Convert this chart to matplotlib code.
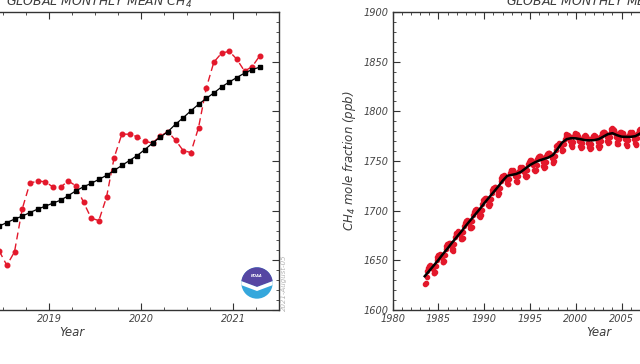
import matplotlib.pyplot as plt
import numpy as np
from matplotlib.patches import Circle, Polygon
from matplotlib.ticker import MultipleLocator, FuncFormatter

plt.rcParams['font.family'] = 'DejaVu Sans'
plt.rcParams['font.style'] = 'italic'
plt.rcParams['mathtext.fontset'] = 'dejavusans'
plt.rcParams['mathtext.default'] = 'it'

RED = '#e3182b'
TXT = '#3c3c3c'

# recent panel: monthly values from June 2018 to April 2021
recent_start = (2018, 6)
recent_monthly = [1851.9, 1849.0, 1851.7, 1860.3, 1865.5, 1866.0, 1865.8, 1864.8,
                  1864.7, 1866.0, 1865.0, 1861.7, 1858.5, 1858.0, 1862.7, 1870.7,
                  1875.4, 1875.4, 1874.9, 1874.0, 1873.6, 1875.0, 1875.9, 1874.2,
                  1872.1, 1871.7, 1876.7, 1884.6, 1889.9, 1891.7, 1892.1, 1890.5,
                  1888.1, 1889.0, 1891.2]
recent_trend = [1856.9, 1857.6, 1858.3, 1858.9, 1859.6, 1860.3, 1860.9, 1861.5,
                1862.1, 1863.0, 1864.0, 1864.8, 1865.5, 1866.3, 1867.1, 1868.1,
                1869.1, 1870.1, 1871.1, 1872.3, 1873.6, 1874.8, 1875.9, 1877.4,
                1878.7, 1880.1, 1881.4, 1882.6, 1883.7, 1884.9, 1885.9, 1886.8,
                1887.7, 1888.4, 1888.9]

# long record: monthly values from July 1983 (one row per year)
long_start = (1983, 7)
long_monthly = [
    1626.0, 1627.5, 1633.5, 1639.0, 1642.0, 1644.0,
    1644.0, 1645.2, 1644.5, 1643.7, 1641.2, 1637.5, 1636.8, 1638.4, 1644.0, 1650.2, 1653.4, 1655.0,
    1655.0, 1656.2, 1655.7, 1654.9, 1652.5, 1648.8, 1647.9, 1649.7, 1655.3, 1661.6, 1664.8, 1666.5,
    1666.5, 1667.6, 1667.2, 1666.4, 1664.0, 1660.3, 1659.5, 1661.2, 1666.8, 1673.1, 1676.3, 1678.0,
    1678.0, 1679.1, 1678.6, 1677.9, 1675.5, 1671.8, 1671.0, 1672.7, 1678.3, 1684.6, 1687.8, 1689.5,
    1689.5, 1690.6, 1690.0, 1689.2, 1686.8, 1683.0, 1682.3, 1683.9, 1689.5, 1695.7, 1698.8, 1700.5,
    1700.5, 1701.6, 1701.1, 1700.4, 1698.0, 1694.3, 1693.5, 1695.2, 1700.8, 1707.1, 1710.3, 1712.0,
    1712.0, 1713.1, 1712.5, 1711.7, 1709.3, 1705.5, 1704.8, 1706.4, 1712.0, 1718.2, 1721.3, 1723.0,
    1723.0, 1724.1, 1723.6, 1722.9, 1720.5, 1716.8, 1716.0, 1717.7, 1723.3, 1729.6, 1732.8, 1734.5,
    1734.4, 1735.5, 1734.8, 1733.9, 1731.5, 1727.6, 1726.4, 1727.3, 1732.1, 1737.6, 1740.0, 1740.9,
    1740.1, 1740.5, 1739.1, 1737.6, 1734.5, 1729.9, 1728.5, 1729.5, 1734.5, 1740.2, 1742.7, 1743.8,
    1743.3, 1744.1, 1743.2, 1742.0, 1739.3, 1735.2, 1734.1, 1735.4, 1740.7, 1746.5, 1749.3, 1750.7,
    1750.2, 1750.8, 1749.8, 1748.5, 1745.6, 1741.3, 1740.0, 1741.0, 1746.0, 1751.7, 1754.2, 1755.3,
    1754.6, 1755.1, 1753.8, 1752.4, 1749.3, 1744.9, 1743.4, 1744.4, 1749.3, 1754.9, 1757.3, 1758.4,
    1757.7, 1758.3, 1757.2, 1756.0, 1753.1, 1748.8, 1747.8, 1749.5, 1755.2, 1761.5, 1764.7, 1766.5,
    1766.5, 1767.8, 1767.4, 1766.8, 1764.6, 1761.0, 1760.1, 1761.4, 1766.7, 1772.5, 1775.3, 1776.7,
    1776.1, 1776.5, 1775.1, 1773.6, 1770.5, 1765.9, 1764.3, 1765.0, 1769.6, 1774.9, 1777.1, 1777.8,
    1776.7, 1776.8, 1775.2, 1773.3, 1769.9, 1765.1, 1763.2, 1763.8, 1768.3, 1773.4, 1775.5, 1776.1,
    1775.0, 1775.1, 1773.6, 1771.9, 1768.5, 1763.8, 1762.1, 1762.9, 1767.6, 1772.9, 1775.2, 1776.0,
    1775.1, 1775.5, 1774.1, 1772.6, 1769.5, 1764.9, 1763.5, 1764.6, 1769.8, 1775.5, 1778.1, 1779.3,
    1778.7, 1779.3, 1778.3, 1777.0, 1774.1, 1769.8, 1768.4, 1769.3, 1774.1, 1779.6, 1782.0, 1782.9,
    1781.8, 1781.7, 1779.9, 1777.8, 1774.2, 1769.2, 1767.2, 1767.6, 1772.1, 1777.1, 1779.1, 1779.6,
    1778.5, 1778.6, 1777.1, 1775.4, 1772.0, 1767.3, 1765.6, 1766.3, 1771.0, 1776.3, 1778.5, 1779.3,
    1778.4, 1778.7, 1777.3, 1775.7, 1772.5, 1767.9, 1766.5, 1767.6, 1772.8, 1778.5, 1781.1, 1782.3,
    1781.8, 1782.6, 1781.7,
]
long_trend_years = [1983.5 + 0.5 * i for i in range(49)]
long_trend = [1634, 1639.5, 1645, 1650.5, 1656.5, 1662, 1668, 1673.5, 1679, 1685,
              1690.5, 1696, 1701.5, 1707.5, 1713, 1718.5, 1724, 1730, 1735, 1736,
              1737, 1739, 1742.5, 1746, 1748.5, 1750.5, 1752, 1753.5, 1756, 1762,
              1768.5, 1772, 1773, 1772.8, 1772, 1771, 1770.8, 1771, 1772, 1774.5,
              1777, 1778, 1776, 1774.5, 1774.3, 1774.3, 1775, 1777.5, 1781]


def month_axis(start, n):
    y, m = start
    return np.array([y + (m - 1 + i + 0.5) / 12 for i in range(n)])


def style(ax):
    for s in ax.spines.values():
        s.set_color('#333333')
        s.set_linewidth(1.0)
    ax.tick_params(which='both', direction='in', top=True, right=True,
                   colors='#333333', labelcolor='#444444', labelsize=7, pad=3)
    ax.tick_params(which='major', length=5, width=0.8)
    ax.tick_params(which='minor', length=2.5, width=0.6)


fig = plt.figure(figsize=(6.4, 3.64), dpi=100)
fig.patch.set_facecolor('white')

# left: recent years (axes runs off the left edge, as in the cropped original)
ax1 = fig.add_axes([-135 / 640, 54 / 364, 414 / 640, 298 / 364])
xr = month_axis(recent_start, len(recent_monthly))
ax1.plot(xr, recent_monthly, color=RED, lw=1.0, dashes=(5, 3),
         marker='o', ms=3.3, mfc=RED, mec=RED)
ax1.plot(xr, recent_trend, color='black', lw=0.9, marker='s', ms=2.6)
ax1.set_xlim(2017, 2021.5)
ax1.set_ylim(1840, 1900)
ax1.xaxis.set_major_locator(MultipleLocator(1))
ax1.xaxis.set_minor_locator(MultipleLocator(0.25))
ax1.xaxis.set_major_formatter(FuncFormatter(lambda v, p: f'{v:.0f}' if v >= 2019 else ''))
ax1.yaxis.set_major_locator(MultipleLocator(10))
ax1.yaxis.set_minor_locator(MultipleLocator(2))
style(ax1)
ax1.tick_params(labelleft=False)
ax1.set_title('RECENT GLOBAL MONTHLY MEAN CH$_4$', fontsize=9, color=TXT, pad=4.3)
ax1.set_xlabel('Year', fontsize=8.5, color=TXT, labelpad=1)

# right: full record
ax2 = fig.add_axes([392.7 / 640, 54 / 364, 412 / 640, 298 / 364])
xl = month_axis(long_start, len(long_monthly))
ax2.plot(xl, long_monthly, color=RED, lw=0.8, dashes=(3, 2),
         marker='o', ms=3.0, mfc=RED, mec=RED)
ax2.plot(long_trend_years, long_trend, color='black', lw=1.8)
ax2.set_xlim(1980, 2025)
ax2.set_ylim(1600, 1900)
ax2.xaxis.set_major_locator(MultipleLocator(5))
ax2.xaxis.set_minor_locator(MultipleLocator(1))
ax2.xaxis.set_major_formatter(FuncFormatter(lambda v, p: f'{v:.0f}' if v <= 2005 else ''))
ax2.yaxis.set_major_locator(MultipleLocator(50))
ax2.yaxis.set_minor_locator(MultipleLocator(10))
style(ax2)
ax2.set_title('GLOBAL MONTHLY MEAN CH$_4$', fontsize=9, color=TXT, pad=4.3)
ax2.set_xlabel('Year', fontsize=8.5, color=TXT, labelpad=1)
ax2.set_ylabel('CH$_4$ mole fraction (ppb)', fontsize=8.5, color=TXT, labelpad=4)

# NOAA logo
axl = fig.add_axes([(257 - 16) / 640, (364 - 283 - 16) / 364, 32 / 640, 32 / 364])
axl.set_xlim(-1, 1)
axl.set_ylim(-1, 1)
axl.axis('off')
disc = Circle((0, 0), 0.98, fc='#35a7dc', ec='none')
axl.add_patch(disc)
top = Polygon([(-1.2, 0.2), (0, -0.25), (1.2, 0.2), (1.2, 1.2), (-1.2, 1.2)],
              fc='#5647a3', ec='none')
wing = Polygon([(-1.2, 0.2), (0, -0.25), (1.2, 0.2), (1.2, -0.05), (0, -0.5), (-1.2, -0.05)],
               fc='white', ec='none')
for p in (top, wing):
    axl.add_patch(p)
    p.set_clip_path(disc)
axl.text(0, 0.42, 'NOAA', fontsize=2.6, color='white', ha='center', va='center',
         fontweight='bold')

fig.text(284 / 640, 1 - 283 / 364, '2021-August-05', rotation=90, fontsize=5,
         color='#b4b4b4', ha='center', va='center')

fig.savefig('out.png', dpi=100)
